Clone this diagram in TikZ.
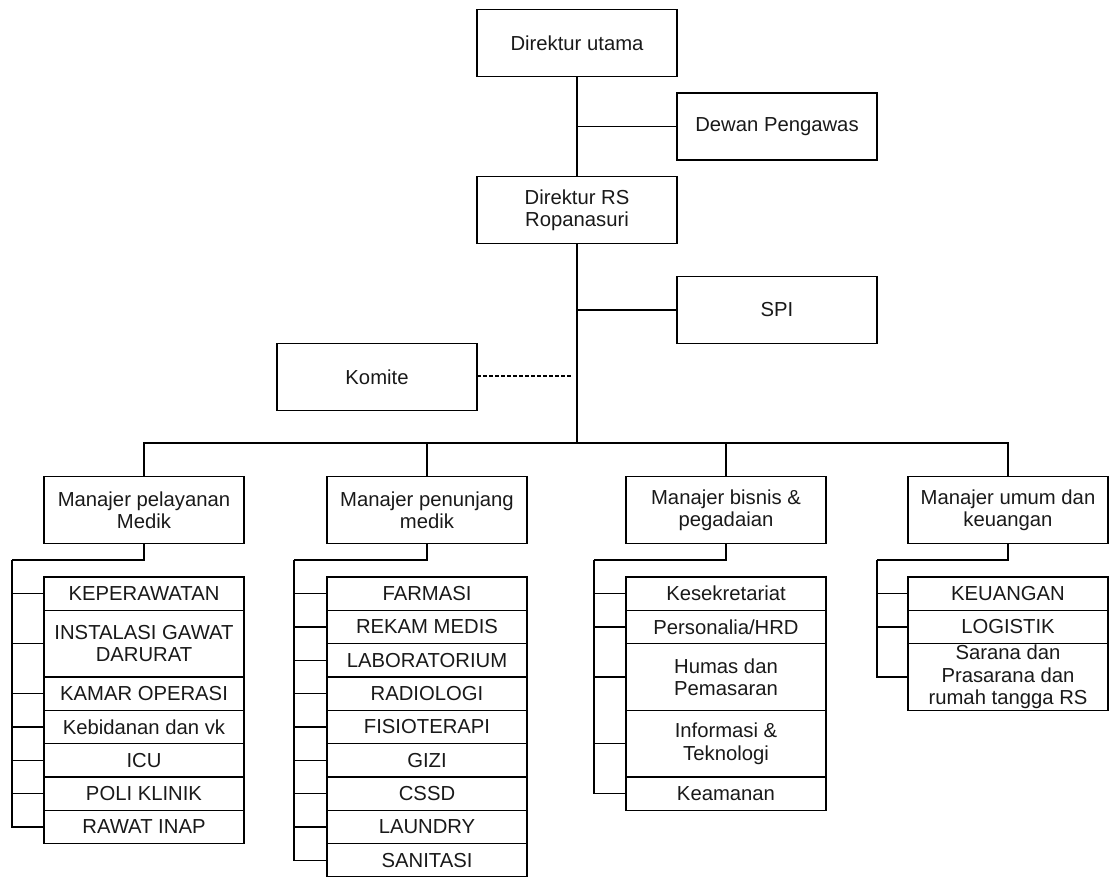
\documentclass[tikz,border=0pt]{standalone}
\usepackage{fontspec}
\setmainfont{Liberation Sans}
\begin{document}
\begin{tikzpicture}[x=0.75pt,y=-0.75pt,line width=1.1pt,
  box/.style={draw=black, rectangle, minimum width=150pt, minimum height=50pt,
    inner sep=0pt, outer sep=0pt, align=center,
    font=\fontsize{15.2pt}{16.8pt}\selectfont, text=black!90},
  sub/.style={box, minimum height=25pt},
  tall/.style={box, minimum height=50pt},
  link/.style={draw=black, line width=1.1pt},
  dlink/.style={link, dash pattern=on 3pt off 1.5pt}]
\useasboundingbox (0,0) rectangle (1109,877);

% top hierarchy
\node[box] (du)  at (577,43)    {Direktur utama};
\node[box] (dp)  at (777,126.5) {Dewan Pengawas};
\node[box] (drs) at (577,210)   {Direktur RS\\Ropanasuri};
\node[box] (spi) at (777,310)   {SPI};
\node[box] (kom) at (377,377)   {Komite};

\draw[link] (du.south) -- (drs.north);
\draw[link] (dp.west) -- (dp.west -| du.south);
\coordinate (bus) at (577,443);
\draw[link] (drs.south) -- (bus);
\draw[link] (spi.west) -- (spi.west -| drs.south);
\coordinate (kend) at (573,376);
\draw[dlink] (kom.east |- kend) -- (kend);

% managers
\node[box] (m1) at (144,510)  {Manajer pelayanan\\Medik};
\node[box] (m2) at (427,510)  {Manajer penunjang\\medik};
\node[box] (m3) at (726,510)  {Manajer bisnis \&\\pegadaian};
\node[box] (m4) at (1008,510) {Manajer umum dan\\keuangan};

\draw[link] (m1.north) |- (bus) -| (m4.north);
\draw[link] (m2.north) -- (m2.north |- bus);
\draw[link] (m3.north) -- (m3.north |- bus);

% column 1
\node[sub,anchor=north]  (a1) at (144,577) {KEPERAWATAN};
\node[tall,anchor=north] (a2) at (a1.south) {INSTALASI GAWAT\\DARURAT};
\node[sub,anchor=north]  (a3) at (a2.south) {KAMAR OPERASI};
\node[sub,anchor=north]  (a4) at (a3.south) {Kebidanan dan vk};
\node[sub,anchor=north]  (a5) at (a4.south) {ICU};
\node[sub,anchor=north]  (a6) at (a5.south) {POLI KLINIK};
\node[sub,anchor=north]  (a7) at (a6.south) {RAWAT INAP};
\coordinate (c1) at (12,560);
\draw[link] (m1.south) |- (c1);
\foreach \n in {a1,a2,a3,a4,a5,a6,a7} \draw[link] (c1) |- (\n.west);

% column 2
\node[sub,anchor=north] (b1) at (427,577) {FARMASI};
\node[sub,anchor=north] (b2) at (b1.south) {REKAM MEDIS};
\node[sub,anchor=north] (b3) at (b2.south) {LABORATORIUM};
\node[sub,anchor=north] (b4) at (b3.south) {RADIOLOGI};
\node[sub,anchor=north] (b5) at (b4.south) {FISIOTERAPI};
\node[sub,anchor=north] (b6) at (b5.south) {GIZI};
\node[sub,anchor=north] (b7) at (b6.south) {CSSD};
\node[sub,anchor=north] (b8) at (b7.south) {LAUNDRY};
\node[sub,anchor=north] (b9) at (b8.south) {SANITASI};
\coordinate (c2) at (294,560);
\draw[link] (m2.south) |- (c2);
\foreach \n in {b1,b2,b3,b4,b5,b6,b7,b8,b9} \draw[link] (c2) |- (\n.west);

% column 3
\node[sub,anchor=north]  (d1) at (726,577) {Kesekretariat};
\node[sub,anchor=north]  (d2) at (d1.south) {Personalia/HRD};
\node[tall,anchor=north] (d3) at (d2.south) {Humas dan\\Pemasaran};
\node[tall,anchor=north] (d4) at (d3.south) {Informasi \&\\Teknologi};
\node[sub,anchor=north]  (d5) at (d4.south) {Keamanan};
\coordinate (c3) at (594,560);
\draw[link] (m3.south) |- (c3);
\foreach \n in {d1,d2,d3,d4,d5} \draw[link] (c3) |- (\n.west);

% column 4
\node[sub,anchor=north]  (e1) at (1008,577) {KEUANGAN};
\node[sub,anchor=north]  (e2) at (e1.south) {LOGISTIK};
\node[tall,anchor=north] (e3) at (e2.south) {Sarana dan\\Prasarana dan\\rumah tangga RS};
\coordinate (c4) at (877,560);
\draw[link] (m4.south) |- (c4);
\foreach \n in {e1,e2,e3} \draw[link] (c4) |- (\n.west);
\end{tikzpicture}
\end{document}
